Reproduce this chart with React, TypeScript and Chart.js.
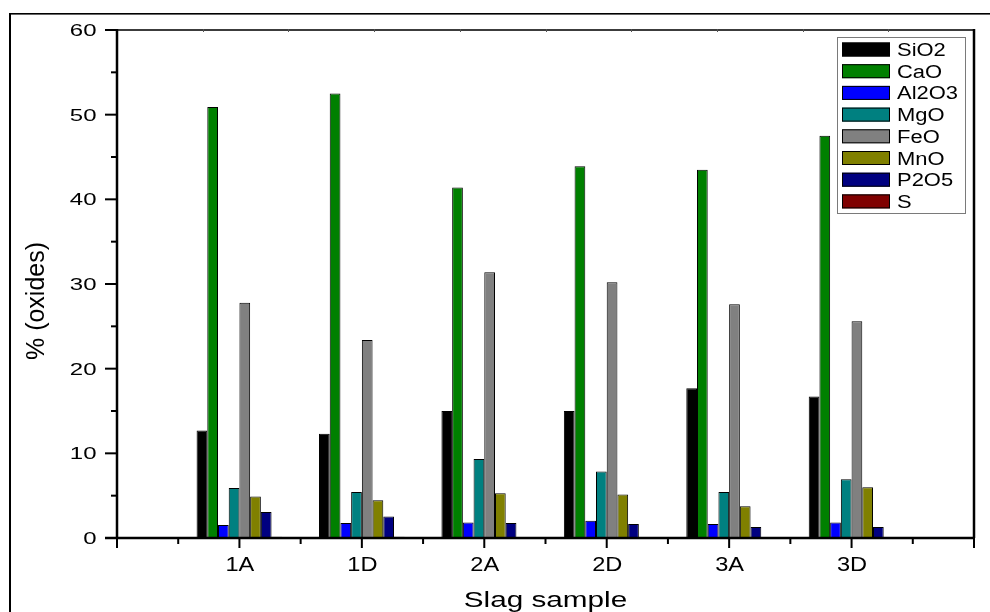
import React, { useEffect, useRef } from 'react';
import { Chart, registerables } from 'chart.js';

Chart.register(...registerables);

// ---- data ----
const categories = ['1A', '1D', '2A', '2D', '3A', '3D'];
const seriesNames = ['SiO2', 'CaO', 'Al2O3', 'MgO', 'FeO', 'MnO', 'P2O5', 'S'];
const SiO2 = [12.7, 12.3, 15.0, 15.0, 17.7, 16.7];
const CaO = [50.9, 52.5, 41.4, 43.9, 43.5, 47.5];
const Al2O3 = [1.55, 1.77, 1.82, 2.05, 1.66, 1.82];
const MgO = [5.9, 5.44, 9.34, 7.85, 5.44, 6.94];
const FeO = [27.8, 23.4, 31.4, 30.2, 27.6, 25.6];
const MnO = [4.9, 4.46, 5.3, 5.13, 3.75, 6.0];
const P2O5 = [3.07, 2.53, 1.77, 1.66, 1.3, 1.3];
const S = [0.15, 0.15, 0.12, 0.12, 0.1, 0.1];
const seriesValues = [SiO2, CaO, Al2O3, MgO, FeO, MnO, P2O5, S];
const seriesColors = ['#000000', '#008000', '#0000FF', '#008080', '#808080', '#808000', '#000080', '#800000'];
const yTickLabels = [0, 10, 20, 30, 40, 50, 60];
const yMinorStep = 5;
const xTitle = 'Slag sample';
const yTitle = '% (oxides)';

const FONT = "'Liberation Sans', Arial, Helvetica, sans-serif";

function drawText(ctx: CanvasRenderingContext2D, text: string, x: number, y: number, size: number, sx: number, align: CanvasTextAlign, rot = 0) {
  ctx.save();
  ctx.font = `${size}px ${FONT}`;
  ctx.fillStyle = '#000';
  ctx.textAlign = align;
  ctx.textBaseline = 'alphabetic';
  ctx.translate(x, y);
  if (rot) ctx.rotate(rot);
  ctx.scale(sx, 1);
  ctx.fillText(text, 0, 0);
  ctx.restore();
}

function line(ctx: CanvasRenderingContext2D, x1: number, y1: number, x2: number, y2: number, w: number, c: string) {
  ctx.save();
  ctx.strokeStyle = c;
  ctx.lineWidth = w;
  ctx.lineCap = 'butt';
  ctx.beginPath();
  ctx.moveTo(x1, y1);
  ctx.lineTo(x2, y2);
  ctx.stroke();
  ctx.restore();
}

const decorPlugin = {
  id: 'decor',
  afterDraw(chart: any) {
    const ctx: CanvasRenderingContext2D = chart.ctx;
    const ca = chart.chartArea;
    const xs = chart.scales.x;
    const ys = chart.scales.y;

    // outer frame (left and top edges)
    ctx.save();
    ctx.fillStyle = '#000';
    ctx.fillRect(9, 13, 981, 1.6);
    ctx.fillRect(9, 13, 2, 599);
    ctx.restore();

    // top axis with small ticks
    line(ctx, ca.left, ca.top, ca.right, ca.top, 2, '#3c3c3c');
    for (let i = 1; i < 10; i++) {
      const px = Math.round(ca.left + (i * (ca.right - ca.left)) / 10) + 0.5;
      line(ctx, px, ca.top - 1, px, ca.top + 2, 1, '#555');
    }
    // right axis
    line(ctx, ca.right, ca.top - 1, ca.right, ca.bottom, 2.5, '#000');

    // y axis and ticks
    line(ctx, ca.left, ca.top - 1, ca.left, ca.bottom + 1, 2.5, '#000');
    const yMax = yTickLabels[yTickLabels.length - 1];
    for (let v = 0; v <= yMax; v += yMinorStep) {
      const py = ys.getPixelForValue(v);
      const major = yTickLabels.includes(v);
      line(ctx, ca.left - (major ? 12 : 6), py, ca.left, py, 2, '#000');
    }
    yTickLabels.forEach((v) => {
      const py = ys.getPixelForValue(v);
      drawText(ctx, String(v), ca.left - 20.5, py + 6, 17, 1.41, 'right');
    });

    // x axis and ticks
    line(ctx, ca.left - 12, ca.bottom, ca.right + 1, ca.bottom, 2.5, '#000');
    const n = categories.length + 1;
    for (let i = 0; i <= n * 2; i++) {
      const v = i / 2;
      const px = xs.getPixelForValue(v);
      const major = i % 2 === 0;
      line(ctx, px, ca.bottom, px, ca.bottom + (major ? 10 : 6), 2, '#000');
    }
    categories.forEach((c, i) => {
      drawText(ctx, c, xs.getPixelForValue(i + 1) + 0.5, 571, 20, 1.18, 'center');
    });

    // axis titles
    drawText(ctx, xTitle, (ca.left + ca.right) / 2, 607, 22, 1.35, 'center');
    drawText(ctx, yTitle, 44, 301, 25, 1, 'center', -Math.PI / 2);

    // legend
    ctx.save();
    ctx.strokeStyle = '#7a7a7a';
    ctx.lineWidth = 1;
    ctx.strokeRect(837.5, 37.5, 128, 176);
    ctx.restore();
    chart.data.datasets.forEach((ds: any, i: number) => {
      const yc = 49.5 + i * 21.7;
      ctx.save();
      ctx.fillStyle = ds.backgroundColor;
      ctx.fillRect(842, yc - 7, 48, 14);
      ctx.strokeStyle = '#000';
      ctx.lineWidth = 1;
      ctx.strokeRect(842.5, yc - 6.5, 47, 13);
      ctx.restore();
      drawText(ctx, ds.label, 897, yc + 6.5, 18, 1.22, 'left');
    });
  },
};

export default function App() {
  const ref = useRef<HTMLCanvasElement | null>(null);
  useEffect(() => {
    if (!ref.current) return;
    const labels = ['', ...categories, ''];
    const chart = new Chart(ref.current, {
      type: 'bar',
      data: {
        labels,
        datasets: seriesNames.map((name, i) => ({
          label: name,
          data: [null, ...seriesValues[i], null],
          backgroundColor: seriesColors[i],
          borderColor: '#000',
          borderWidth: 1,
          categoryPercentage: 0.7,
          barPercentage: 1.0,
        })),
      },
      options: {
        responsive: false,
        animation: false,
        events: [],
        layout: { padding: { top: 30, right: 16, left: 0, bottom: 0 } },
        plugins: {
          legend: { display: false },
          tooltip: { enabled: false },
          title: { display: false },
        },
        scales: {
          x: {
            type: 'category',
            offset: false,
            grid: { display: false },
            border: { display: false },
            ticks: { display: false },
            afterFit: (s: any) => {
              s.height = 74;
            },
          },
          y: {
            min: 0,
            max: 60,
            grid: { display: false },
            border: { display: false },
            ticks: { display: false },
            afterFit: (s: any) => {
              s.width = 117;
            },
          },
        },
      } as any,
      plugins: [decorPlugin],
    });
    return () => chart.destroy();
  }, []);
  return (
    <div style={{ position: 'fixed', left: 0, top: 0, width: 990, height: 612, background: '#fff' }}>
      <canvas ref={ref} width={990} height={612} style={{ display: 'block', width: 990, height: 612 }} />
    </div>
  );
}
